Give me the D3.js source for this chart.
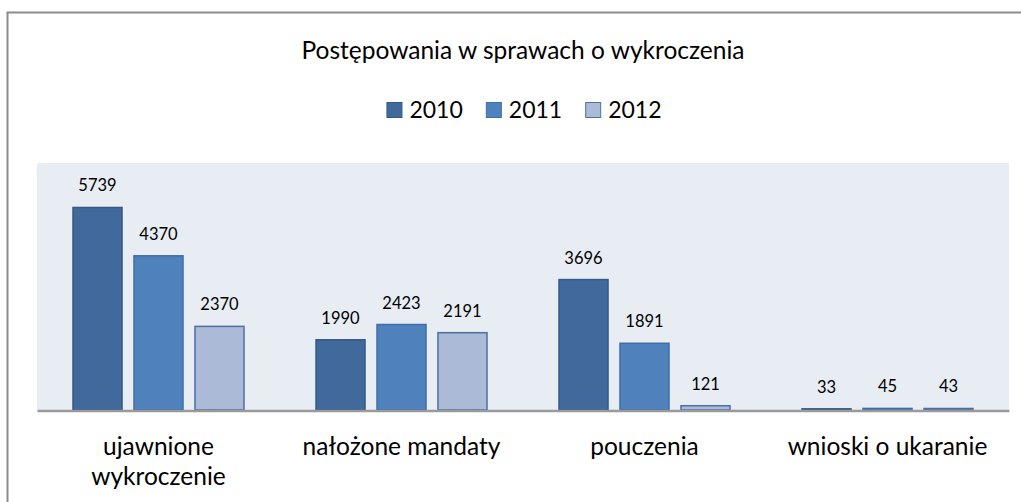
<!DOCTYPE html>
<html><head><meta charset="utf-8">
<script src="https://cdn.jsdelivr.net/npm/d3@7"></script>
<style>html,body{margin:0;background:#fff;overflow:hidden}svg{display:block}text{font-family:Lato,"Open Sans",sans-serif;fill:#000}</style>
</head><body><svg id="c" width="1021" height="502"></svg>
<script>
const title = "Postępowania w sprawach o wykroczenia";
const categories = ["ujawnione wykroczenie", "nałożone mandaty", "pouczenia", "wnioski o ukaranie"];
const seriesNames = ["2010", "2011", "2012"];
const values2010 = [5739, 1990, 3696, 33];
const values2011 = [4370, 2423, 1891, 45];
const values2012 = [2370, 2191, 121, 43];
const seriesValues = [values2010, values2011, values2012];
const fills = ["#41699b", "#4f81bd", "#aabad7"];
const strokes = ["#355985", "#3e6ea6", "#4a71a3"];

const svg = d3.select("#c");
const plot = {left: 37, right: 1009, top: 163, bottom: 410};
const cx = (plot.left + plot.right) / 2;

// frame (top and left edges visible in the crop)
svg.append("path").attr("d", "M7.5,502 L7.5,12.5 L1021,12.5")
  .attr("fill", "none").attr("stroke", "#8c8c8c").attr("stroke-width", 2);

svg.append("text").attr("x", cx).attr("y", 59).attr("text-anchor", "middle")
  .style("font-size", "24.5px").text(title);

// legend
const lg = svg.append("g");
let lx = 0;
seriesNames.forEach((s, i) => {
  const g = lg.append("g").attr("transform", `translate(${lx},0)`);
  g.append("rect").attr("x", 0.5).attr("y", 102.5).attr("width", 15).attr("height", 15)
    .attr("fill", fills[i]).attr("stroke", strokes[i]);
  const t = g.append("text").attr("x", 23).attr("y", 117.5).style("font-size", "23px").text(s);
  const w = t.node().getComputedTextLength();
  lx += 23 + w + (i < seriesNames.length - 1 ? 23 : 0);
});
const lw = lx;
lg.attr("transform", `translate(${cx - lw / 2 + 1},0)`);

// scales
const x0 = d3.scaleBand().domain(categories).range([plot.left, plot.right]);
const x1 = d3.scaleBand().domain(seriesNames).range([35.5, x0.bandwidth() - 35.5]).paddingInner(0.18);
const y = d3.scaleLinear().domain([0, 7000]).range([plot.bottom, plot.top]);

svg.append("rect").attr("x", plot.left).attr("y", plot.top)
  .attr("width", plot.right - plot.left).attr("height", plot.bottom - plot.top).attr("fill", "#e8edf4");

const data = categories.map((c, ci) => ({c, vals: seriesNames.map((s, si) => ({s, si, v: seriesValues[si][ci]}))}));

const groups = svg.selectAll("g.grp").data(data).join("g").attr("class", "grp")
  .attr("transform", d => `translate(${x0(d.c)},0)`);

groups.selectAll("rect").data(d => d.vals).join("rect")
  .attr("x", d => x1(d.s) + 0.5).attr("width", x1.bandwidth() - 1)
  .attr("y", d => y(d.v)).attr("height", d => y(0) - y(d.v))
  .attr("fill", d => fills[d.si]).attr("stroke", d => strokes[d.si]).attr("stroke-width", 1.5);

groups.selectAll("text").data(d => d.vals).join("text")
  .attr("x", d => x1(d.s) + x1.bandwidth() / 2).attr("y", d => y(d.v) - 16)
  .attr("text-anchor", "middle").style("font-size", "16.5px").text(d => d.v);

// axis line
const xAxis = d3.axisBottom(x0).tickSize(0).tickFormat("");
const ax = svg.append("g").attr("transform", `translate(0,${plot.bottom + 0.5})`).call(xAxis);
ax.select(".domain").attr("stroke", "#9a9a9a").attr("stroke-width", 2.5);

// category labels (wrapped)
categories.forEach(c => {
  const t = svg.append("text").attr("x", x0(c) + x0.bandwidth() / 2).attr("y", 455)
    .attr("text-anchor", "middle").style("font-size", "24.5px").text(c);
  if (t.node().getComputedTextLength() > x0.bandwidth() - 15) {
    const words = c.split(" ");
    t.text(null);
    words.forEach((w, i) => t.append("tspan").attr("x", x0(c) + x0.bandwidth() / 2)
      .attr("dy", i === 0 ? 0 : 30).text(w));
  }
});
</script></body></html>
